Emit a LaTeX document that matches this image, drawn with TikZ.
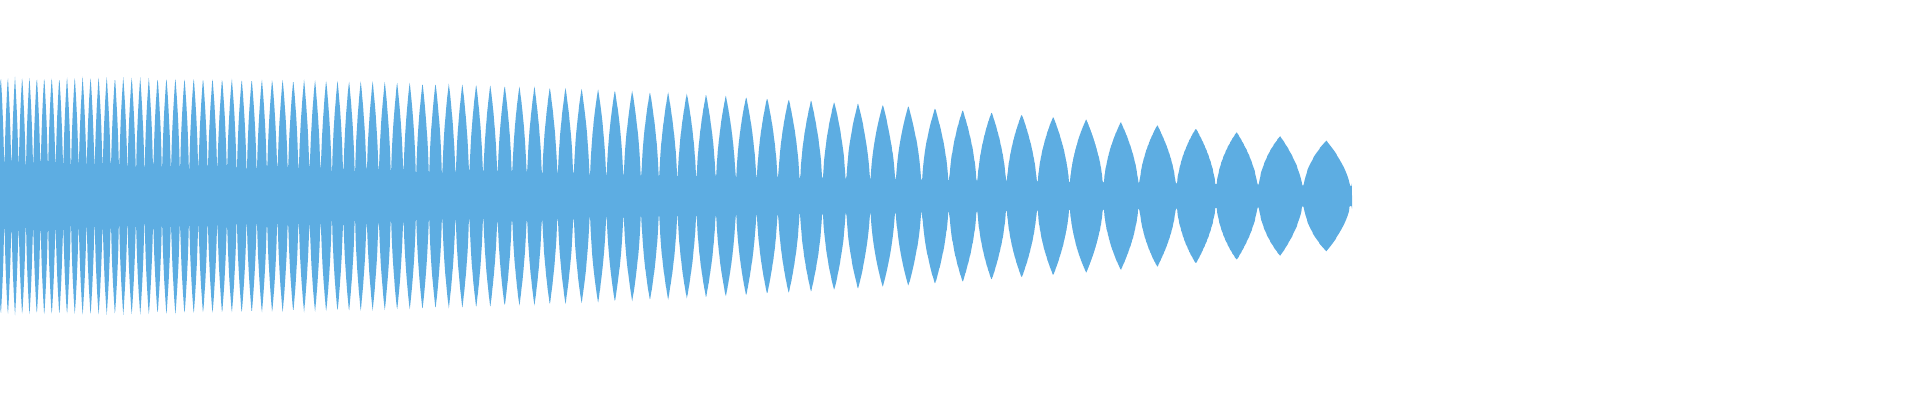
\documentclass[tikz,border=0pt]{standalone}
\definecolor{wave}{RGB}{93,173,226}
\begin{document}
\begin{tikzpicture}[x=1pt,y=1pt]
\useasboundingbox (0,0) rectangle (1920,400);
\pgfmathdeclarefunction{env}{1}{%
  \pgfmathparse{max((120-62*(#1/1300)*(#1/1300))*sqrt(1-abs(2*mod(98.5*(1-exp(-0.00145*#1))+0.4,1)-1)),30-#1/1352*20)}%
}
\fill[wave] (0,204) -- plot[domain=0:1352,samples=2700] (\x,{204+env(\x)})
  -- plot[domain=1352:0,samples=2700] (\x,{204-env(\x)}) -- cycle;
\end{tikzpicture}
\end{document}
